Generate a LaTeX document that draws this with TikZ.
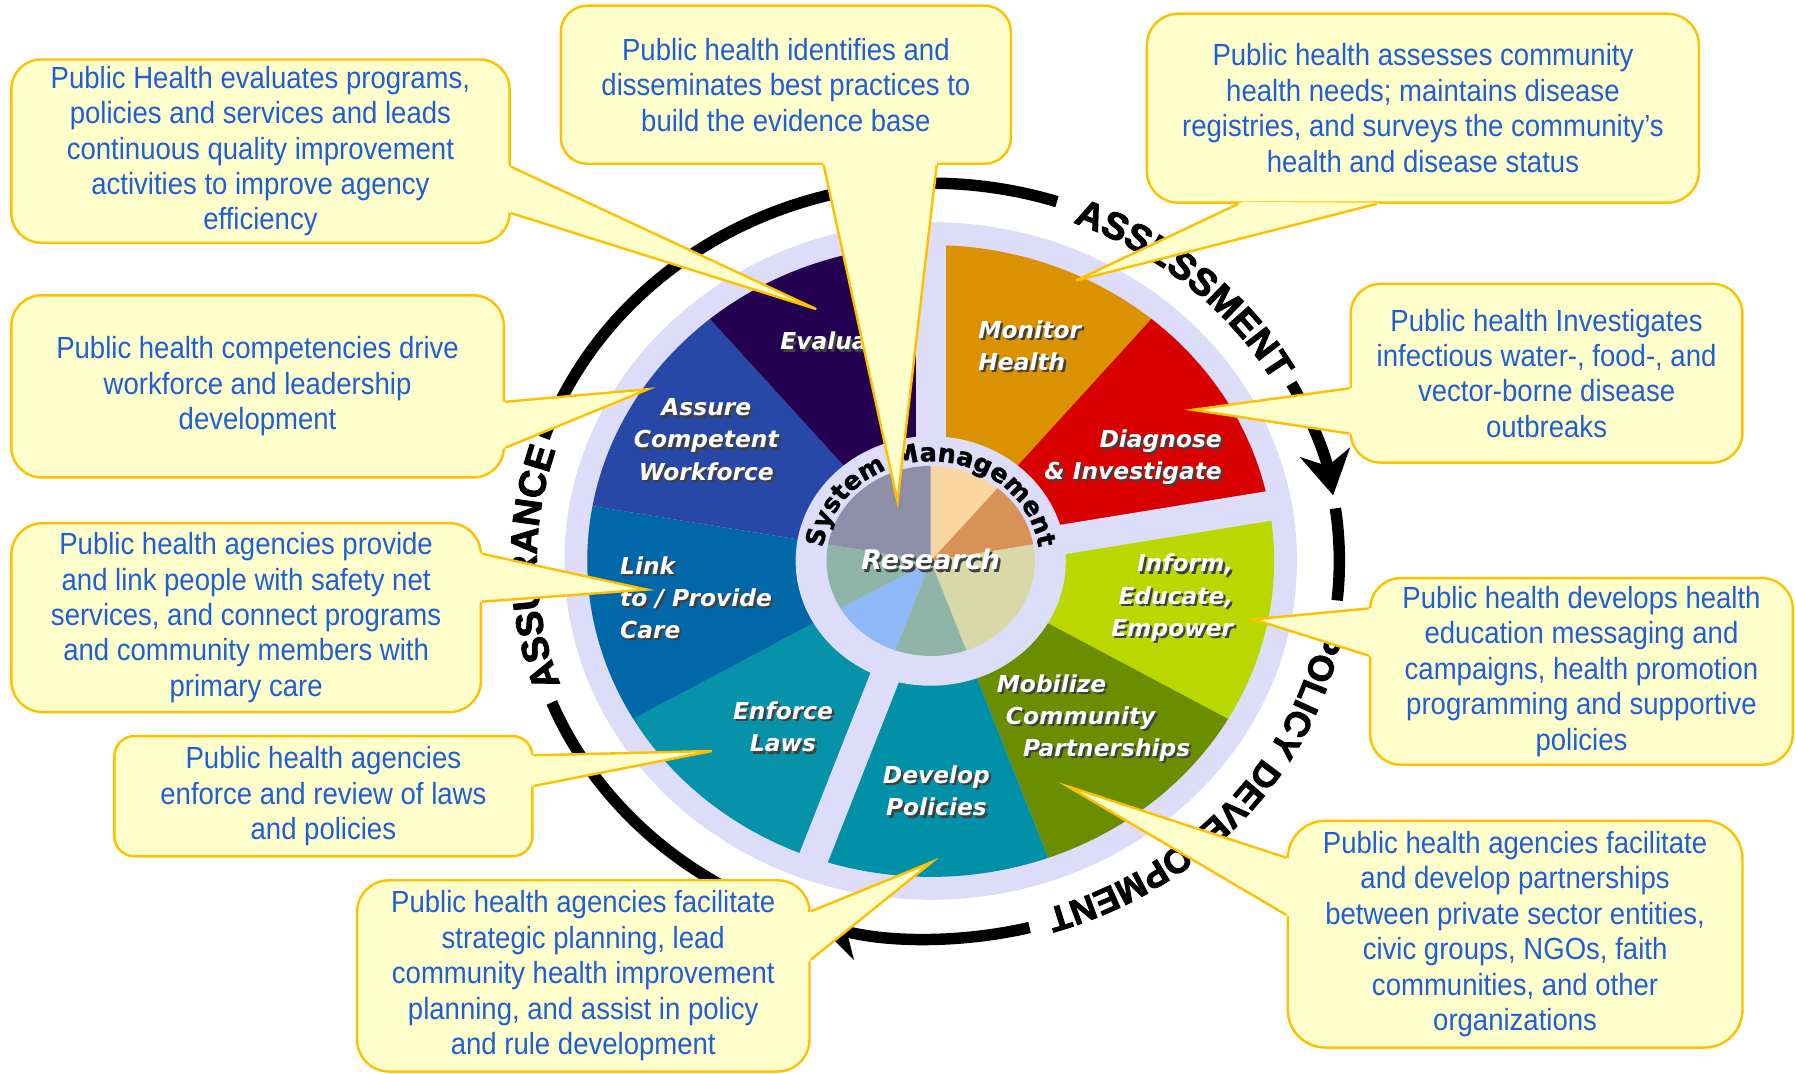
\documentclass[tikz,border=0pt]{standalone}
\usepackage{fontspec}
\setmainfont{Liberation Sans}
\newfontfamily\callfont[FakeStretch=0.9]{Liberation Sans}
\newfontfamily\segfont{DejaVu Sans}
\newfontfamily\arcfont[FakeBold=2.5]{Liberation Sans Bold}
\newfontfamily\sysfont[FakeBold=1.5]{DejaVu Sans Bold}
\usepackage{xcolor}
\usetikzlibrary{calc,arrows.meta,decorations.text}

\definecolor{lavender}{RGB}{221,221,250}
\definecolor{calloutfill}{RGB}{255,255,204}
\definecolor{calloutline}{RGB}{255,192,0}
\definecolor{callouttext}{RGB}{30,95,215}
\definecolor{monitorc}{RGB}{219,146,0}
\definecolor{diagnosec}{RGB}{216,0,0}
\definecolor{informc}{RGB}{184,216,0}
\definecolor{mobilizec}{RGB}{106,142,0}
\definecolor{developc}{RGB}{0,144,168}
\definecolor{enforcec}{RGB}{6,146,168}
\definecolor{linkc}{RGB}{0,104,168}
\definecolor{assurec}{RGB}{40,72,168}
\definecolor{evaluatec}{RGB}{36,0,80}
% research pie
\definecolor{pieGray}{RGB}{142,142,168}
\definecolor{piePeach}{RGB}{250,214,160}
\definecolor{pieOrange}{RGB}{216,146,88}
\definecolor{pieTan}{RGB}{216,216,168}
\definecolor{pieSage}{RGB}{143,181,168}
\definecolor{pieBlue}{RGB}{143,184,248}

% pointer of a callout: base 1, base 2, tip
\newcommand{\callptr}[3]{%
  \fill[calloutfill] (#3) -- ($(#1)!-0.04cm!(#3)$) -- ($(#2)!-0.04cm!(#3)$) -- cycle;
  \draw[callborder] (#1) -- (#3) -- (#2);}
% one line of white label text with its dark shadow
\newcommand{\shd}[1]{\makebox[0pt][l]{\hspace{0.02cm}\raisebox{-0.02cm}{\textcolor{black!75}{#1}}}#1}

\begin{document}
\begin{tikzpicture}[x=0.01cm, y=0.01cm,
    callout/.style={draw=calloutline, fill=calloutfill, line width=0.6pt, text=callouttext,
      align=center, inner sep=0pt, font=\callfont\fontsize{7.6}{8.8}\selectfont},
    callborder/.style={draw=calloutline, line width=0.6pt},
    seglbl/.style={text=white, inner sep=0pt, font=\segfont\bfseries\itshape\fontsize{5.8}{8}\selectfont},
    blackarc/.style={line width=0.1cm},
    bigarrow/.style={-{Stealth[length=0.38cm, width=0.44cm, inset=0.12cm]}}]
    \useasboundingbox (0,0) rectangle (1568,-938);
    \coordinate (c) at (813,-490);

    % Outer lavender ring
    \fill[lavender] (c) ellipse [x radius=320, y radius=296];

    % Nine coloured wedges
    \foreach \a/\col in {90/monitorc, 50/diagnosec, 10/informc, -30/mobilizec, -70/developc,
                         -110/enforcec, -150/linkc, -190/assurec, -230/evaluatec} {
        \fill[\col] (c) -- ++(\a:300 and 276)
            arc[start angle=\a, end angle=\a-40, x radius=300, y radius=276] -- cycle;
    }

    % Gaps between the three groups
    \foreach \a in {90,10,-110} {
        \draw[lavender, line width=0.26cm] (c) -- ++(\a:310 and 286);
    }

    % Inner ring and research pie
    \fill[lavender] (c) ellipse [x radius=118, y radius=109];
    \foreach \a/\b/\col in {90/50/piePeach, 50/10/pieOrange, 10/-70/pieTan, -70/-110/pieSage,
                            -110/-150/pieBlue, -150/-190/pieSage, -190/-270/pieGray} {
        \fill[\col] (c) -- ++(\a:91 and 83)
            arc[start angle=\a, end angle=\b, x radius=91, y radius=83] -- cycle;
    }

    % Wedge labels
    \node[seglbl, anchor=west] (evalt) at (681,-299) {\shd{Evaluate}};
    \node[seglbl, anchor=west, align=left] (monit) at (854,-303) {\shd{Monitor}\\\shd{Health}};
    \node[seglbl, anchor=east, align=right] (diagt) at (1068,-400) {\shd{Diagnose}\\\shd{\& Investigate}};
    \node[seglbl, anchor=east, align=right] (inft) at (1078,-523) {\shd{Inform,}\\\shd{Educate,}\\\shd{Empower}};
    \node[seglbl, anchor=west, align=left] (mobt) at (870,-628)
        {\shd{Mobilize}\\\hspace*{0.08cm}\shd{Community}\\\hspace*{0.23cm}\shd{Partnerships}};
    \node[seglbl, align=center] (devt) at (818,-692) {\shd{Develop}\\\shd{Policies}};
    \node[seglbl, align=center] (enft) at (684,-636) {\shd{Enforce}\\\shd{Laws}};
    \node[seglbl, anchor=west, align=left] (linkt) at (541,-523) {\shd{Link}\\\shd{to / Provide}\\\shd{Care}};
    \node[seglbl, align=center] (asst) at (617,-385) {\shd{Assure}\\\shd{Competent}\\\shd{Workforce}};
    \node[seglbl, font=\segfont\bfseries\itshape\fontsize{6.7}{8}\selectfont] (rest) at (813,-490) {\shd{Research}};

    % System Management round the pie
    \path[decorate, decoration={text along path, text align=center,
        text={|\sysfont\fontsize{6.3}{6.3}\selectfont|System Management}}]
        ($(c)+(172:95 and 87)$) arc[start angle=172, end angle=8, x radius=95, y radius=87];

    % Cycle labels
    \path[decorate, decoration={text along path, text align=center,
        text={|\arcfont\fontsize{9.4}{9.4}\selectfont|ASSESSMENT}}]
        ($(c)+(75:344 and 317)$) arc[start angle=75, end angle=23, x radius=344, y radius=317];
    \path[decorate, decoration={text along path, text align=center,
        text={|\arcfont\fontsize{8.8}{8.8}\selectfont|POLICY DEVELOPMENT}}]
        ($(c)+(-1.5:345 and 318)$) arc[start angle=-1.5, end angle=-81.5, x radius=345, y radius=318];
    \path[decorate, decoration={text along path, text align=center,
        text={|\arcfont\fontsize{9.4}{9.4}\selectfont|ASSURANCE}}]
        ($(c)+(206:344 and 317)$) arc[start angle=206, end angle=156, x radius=344, y radius=317];

    % Cycle arcs
    \draw[blackarc] ($(c)+(89.5:357 and 330)$) arc[start angle=89.5, end angle=72, x radius=357, y radius=330];
    \draw[blackarc, bigarrow] ($(c)+(28:357 and 330)$) arc[start angle=28, end angle=10, x radius=357, y radius=330];
    \draw[blackarc] ($(c)+(8:357 and 330)$) arc[start angle=8, end angle=-6, x radius=357, y radius=330];
    \draw[blackarc, bigarrow] ($(c)+(-76:357 and 330)$) arc[start angle=-76, end angle=-106, x radius=357, y radius=330];
    \draw[blackarc] ($(c)+(-118:357 and 330)$) arc[start angle=-118, end angle=-158, x radius=357, y radius=330];
    \draw[blackarc] ($(c)+(161:357 and 330)$) arc[start angle=161, end angle=96, x radius=357, y radius=330];

    % Callouts
    \node[callout, minimum width=4.35cm, minimum height=1.6cm, rounded corners=0.26cm] (evalbox) at (227.5,-132)
        {Public Health evaluates programs,\\policies and services and leads\\continuous quality improvement\\activities to improve agency\\efficiency};
    \coordinate (evalp1) at ($(evalbox.north east)!0.5833!(evalbox.south east)$);
    \coordinate (evalp2) at ($(evalbox.north east)!0.8333!(evalbox.south east)$);
    \coordinate (evaltip) at (713,-270);
    \callptr{evalp1}{evalp2}{evaltip}

    \node[callout, minimum width=3.93cm, minimum height=1.38cm, rounded corners=0.23cm] (bestbox) at (686.5,-74)
        {Public health identifies and\\disseminates best practices to\\build the evidence base};
    \coordinate (bestp1) at ($(bestbox.south west)!0.5833!(bestbox.south east)$);
    \coordinate (bestp2) at ($(bestbox.south west)!0.8333!(bestbox.south east)$);
    \coordinate (besttip) at (784,-438);
    \callptr{bestp1}{bestp2}{besttip}

    \node[callout, minimum width=4.82cm, minimum height=1.65cm, rounded corners=0.275cm] (assessbox) at (1243,-94.5)
        {Public health assesses community\\health needs; maintains disease\\registries, and surveys the community’s\\health and disease status};
    \coordinate (assessp1) at ($(assessbox.south west)!0.1667!(assessbox.south east)$);
    \coordinate (assessp2) at ($(assessbox.south west)!0.4167!(assessbox.south east)$);
    \coordinate (assesstip) at (940,-245);
    \callptr{assessp1}{assessp2}{assesstip}

    \node[callout, minimum width=3.42cm, minimum height=1.56cm, rounded corners=0.26cm] (investbox) at (1351,-326)
        {Public health Investigates\\infectious water-, food-, and\\vector-borne disease\\outbreaks};
    \coordinate (investp1) at ($(investbox.north west)!0.5833!(investbox.south west)$);
    \coordinate (investp2) at ($(investbox.north west)!0.8333!(investbox.south west)$);
    \coordinate (investtip) at (1042,-358);
    \callptr{investp1}{investp2}{investtip}

    \node[callout, minimum width=3.69cm, minimum height=1.63cm, rounded corners=0.27cm] (educbox) at (1381.5,-586.5)
        {Public health develops health\\education messaging and\\campaigns, health promotion\\programming and supportive\\policies};
    \coordinate (educp1) at ($(educbox.north west)!0.1667!(educbox.south west)$);
    \coordinate (educp2) at ($(educbox.north west)!0.4167!(educbox.south west)$);
    \coordinate (eductip) at (1095,-541);
    \callptr{educp1}{educp2}{eductip}

    \node[callout, minimum width=3.97cm, minimum height=1.98cm, rounded corners=0.33cm] (partnerbox) at (1323.5,-816)
        {Public health agencies facilitate\\and develop partnerships\\between private sector entities,\\civic groups, NGOs, faith\\communities, and other\\organizations};
    \coordinate (partnerp1) at ($(partnerbox.north west)!0.1667!(partnerbox.south west)$);
    \coordinate (partnerp2) at ($(partnerbox.north west)!0.4167!(partnerbox.south west)$);
    \coordinate (partnertip) at (933,-687);
    \callptr{partnerp1}{partnerp2}{partnertip}

    \node[callout, minimum width=3.95cm, minimum height=1.67cm, rounded corners=0.28cm] (planbox) at (509.5,-852.5)
        {Public health agencies facilitate\\strategic planning, lead\\community health improvement\\planning, and assist in policy\\and rule development};
    \coordinate (planp1) at ($(planbox.north east)!0.1667!(planbox.south east)$);
    \coordinate (planp2) at ($(planbox.north east)!0.4167!(planbox.south east)$);
    \coordinate (plantip) at (814,-753);
    \callptr{planp1}{planp2}{plantip}

    \node[callout, minimum width=3.65cm, minimum height=1.05cm, rounded corners=0.175cm] (lawbox) at (282.5,-695.5)
        {Public health agencies\\enforce and review of laws\\and policies};
    \coordinate (lawp1) at ($(lawbox.north east)!0.1667!(lawbox.south east)$);
    \coordinate (lawp2) at ($(lawbox.north east)!0.4167!(lawbox.south east)$);
    \coordinate (lawtip) at (622,-656);
    \callptr{lawp1}{lawp2}{lawtip}

    \node[callout, minimum width=4.1cm, minimum height=1.65cm, rounded corners=0.275cm] (carebox) at (215,-539.5)
        {Public health agencies provide\\and link people with safety net\\services, and connect programs\\and community members with\\primary care};
    \coordinate (carep1) at ($(carebox.north east)!0.1667!(carebox.south east)$);
    \coordinate (carep2) at ($(carebox.north east)!0.4167!(carebox.south east)$);
    \coordinate (caretip) at (565,-515);
    \callptr{carep1}{carep2}{caretip}

    \node[callout, minimum width=4.3cm, minimum height=1.59cm, rounded corners=0.265cm] (workbox) at (225,-337.5)
        {Public health competencies drive\\workforce and leadership\\development};
    \coordinate (workp1) at ($(workbox.north east)!0.5833!(workbox.south east)$);
    \coordinate (workp2) at ($(workbox.north east)!0.8333!(workbox.south east)$);
    \coordinate (worktip) at (566,-340);
    \callptr{workp1}{workp2}{worktip}
\end{tikzpicture}
\end{document}
